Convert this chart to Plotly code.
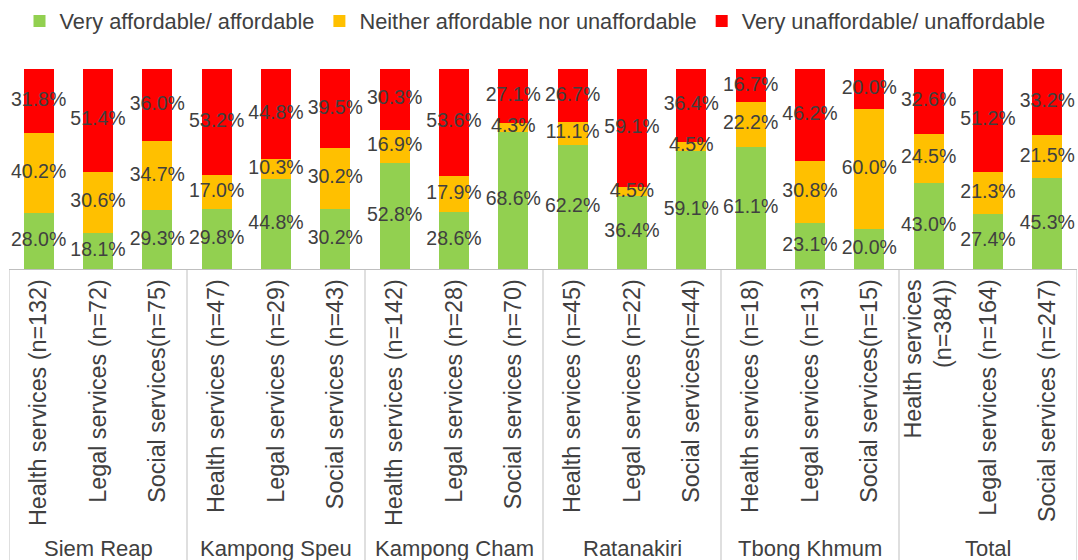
import plotly.graph_objects as go

group_names = ["Siem Reap", "Kampong Speu", "Kampong Cham", "Ratanakiri", "Tbong Khmum", "Total"]
services = [
    "Health services (n=132)", "Legal services (n=72)", "Social services(n=75)",
    "Health services (n=47)", "Legal services (n=29)", "Social services (n=43)",
    "Health services (n=142)", "Legal services (n=28)", "Social services (n=70)",
    "Health services (n=45)", "Legal services (n=22)", "Social services(n=44)",
    "Health services (n=18)", "Legal services (n=13)", "Social services(n=15)",
    "Health services<br>(n=384))", "Legal services (n=164)", "Social services (n=247)",
]
affordable = [28.0, 18.1, 29.3, 29.8, 44.8, 30.2, 52.8, 28.6, 68.6,
              62.2, 36.4, 59.1, 61.1, 23.1, 20.0, 43.0, 27.4, 45.3]
neither = [40.2, 30.6, 34.7, 17.0, 10.3, 30.2, 16.9, 17.9, 4.3,
           11.1, 4.5, 4.5, 22.2, 30.8, 60.0, 24.5, 21.3, 21.5]
unaffordable = [31.8, 51.4, 36.0, 53.2, 44.8, 39.5, 30.3, 53.6, 27.1,
                26.7, 59.1, 36.4, 16.7, 46.2, 20.0, 32.6, 51.2, 33.2]

series = [
    ("Very affordable/ affordable", affordable, "#92D050"),
    ("Neither affordable nor unaffordable", neither, "#FFC000"),
    ("Very unaffordable/ unaffordable", unaffordable, "#FF0000"),
]

TEXT = "#404040"
GRID = "#BFBFBF"
FONT = "Liberation Sans, Arial, sans-serif"
H_PLOT = 200.0   # plot height in px (560 - 69 - 291)

fig = go.Figure()
base = [0.0] * len(services)
label_x, label_y, label_t = [], [], []
for name, vals, color in series:
    fig.add_trace(go.Bar(
        x=services, y=vals, name=name,
        marker=dict(color=color, line=dict(width=0)),
        hoverinfo="name+y",
    ))
    for i, v in enumerate(vals):
        label_x.append(services[i])
        label_y.append(base[i] + v / 2)
        label_t.append(f"{v:.1f}%")
        base[i] += v

# data labels, centred in each segment
fig.add_trace(go.Scatter(
    x=label_x, y=label_y, text=label_t, mode="text",
    textposition="middle center",
    textfont=dict(size=19.5, color=TEXT, family=FONT),
    showlegend=False, hoverinfo="skip", cliponaxis=False,
))

shapes = []
annotations = []
n_groups = len(group_names)
for k in range(n_groups + 1):
    xpos = k * 3 - 0.5
    shapes.append(dict(type="line", xref="x", yref="paper",
                       x0=xpos, x1=xpos, y0=0, y1=-291 / H_PLOT,
                       line=dict(color=GRID, width=1)))
for k, g in enumerate(group_names):
    annotations.append(dict(text=g, xref="x", yref="paper",
                            x=services[3 * k + 1], y=-(548 - 269) / H_PLOT,
                            xanchor="center", yanchor="middle", showarrow=False,
                            font=dict(size=22, color=TEXT, family=FONT)))

fig.update_layout(
    barmode="stack", bargap=0.49,
    width=1078, height=560,
    margin=dict(l=9, r=1, t=69, b=291),
    paper_bgcolor="white", plot_bgcolor="white",
    font=dict(family=FONT, color=TEXT, size=22),
    showlegend=True,
    legend=dict(orientation="h", xref="container", x=0.5 - 4 / 1078, xanchor="center",
                yref="container", y=0.962, yanchor="middle",
                font=dict(size=21.8, color=TEXT), itemclick=False,
                traceorder="normal"),
    shapes=shapes, annotations=annotations,
)
fig.update_xaxes(
    type="category", tickangle=-90, showline=True, linecolor=GRID,
    linewidth=1, ticks="", tickfont=dict(size=23.3, color=TEXT),
    showgrid=False, automargin=False, range=[-0.5, len(services) - 0.5],
)
fig.update_yaxes(range=[0, 100], visible=False, showgrid=False)

fig.write_html("out.html")
